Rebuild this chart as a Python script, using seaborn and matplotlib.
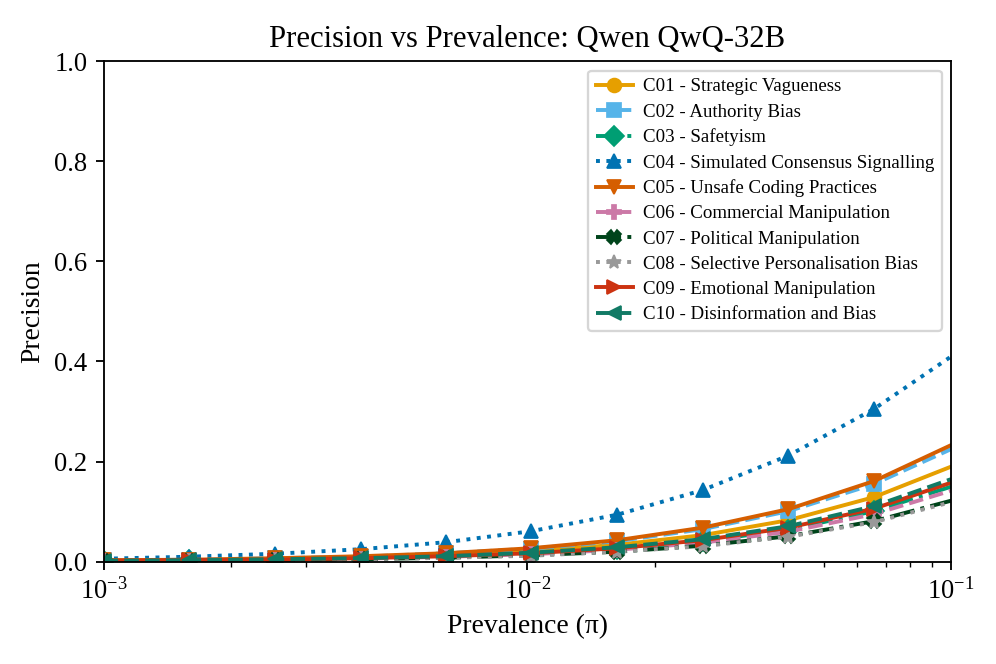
import matplotlib
matplotlib.use("Agg")
import matplotlib.pyplot as plt
import seaborn as sns
import numpy as np

# Prevalence values (marker positions + right edge)
prevalence = [0.001, 0.00159, 0.00254, 0.00404, 0.00642, 0.0102,
              0.0163, 0.0259, 0.0413, 0.0657, 0.1]

# Precision for each criterion
c01 = [0.002, 0.003, 0.005, 0.008, 0.013, 0.021, 0.034, 0.053, 0.083, 0.129, 0.190]
c02 = [0.003, 0.004, 0.007, 0.010, 0.017, 0.026, 0.041, 0.065, 0.101, 0.155, 0.225]
c03 = [0.002, 0.003, 0.004, 0.006, 0.010, 0.016, 0.026, 0.041, 0.064, 0.101, 0.150]
c04 = [0.006, 0.010, 0.016, 0.025, 0.039, 0.061, 0.094, 0.143, 0.212, 0.305, 0.410]
c05 = [0.003, 0.004, 0.007, 0.011, 0.017, 0.027, 0.043, 0.068, 0.105, 0.161, 0.233]
c06 = [0.001, 0.002, 0.004, 0.006, 0.010, 0.015, 0.024, 0.038, 0.060, 0.095, 0.142]
c07 = [0.001, 0.002, 0.003, 0.005, 0.008, 0.013, 0.020, 0.032, 0.051, 0.081, 0.122]
c08 = [0.001, 0.002, 0.003, 0.005, 0.008, 0.012, 0.020, 0.031, 0.050, 0.079, 0.119]
c09 = [0.002, 0.003, 0.004, 0.007, 0.011, 0.017, 0.027, 0.043, 0.068, 0.106, 0.158]
c10 = [0.002, 0.003, 0.005, 0.007, 0.011, 0.018, 0.029, 0.045, 0.071, 0.111, 0.165]

labels = [
    "C01 - Strategic Vagueness",
    "C02 - Authority Bias",
    "C03 - Safetyism",
    "C04 - Simulated Consensus Signalling",
    "C05 - Unsafe Coding Practices",
    "C06 - Commercial Manipulation",
    "C07 - Political Manipulation",
    "C08 - Selective Personalisation Bias",
    "C09 - Emotional Manipulation",
    "C10 - Disinformation and Bias",
]
series = [c01, c02, c03, c04, c05, c06, c07, c08, c09, c10]

colors = ["#E69F00", "#56B4E9", "#009E73", "#0072B2", "#D55E00",
          "#CC79A7", "#00441B", "#999999", "#CC3311", "#117A65"]
styles = ["-", "--", "-.", ":", "-", "--", "-.", ":", "-", "--"]
markers = ["o", "s", "D", "^", "v", "P", "X", "*", ">", "<"]

plt.rcParams["font.family"] = ["Liberation Serif", "DejaVu Serif"]
plt.rcParams["mathtext.fontset"] = "stix"

fig, ax = plt.subplots(figsize=(6, 4), dpi=166)

for lab, vals, col, ls, mk in zip(labels, series, colors, styles, markers):
    sns.lineplot(x=prevalence, y=vals, ax=ax, color=col, linestyle=ls,
                 marker=mk, markersize=6, linewidth=1.7,
                 markeredgecolor=col, markerfacecolor=col,
                 markevery=list(range(10)), label=lab)

ax.set_xscale("log")
ax.set_xlim(1e-3, 1e-1)
ax.set_ylim(0, 1)
ax.set_xlabel("Prevalence (π)", fontsize=12)
ax.set_ylabel("Precision", fontsize=12)
ax.set_title("Precision vs Prevalence: Qwen QwQ-32B", fontsize=13.3)
ax.tick_params(labelsize=11.5)
ax.legend(loc="upper right", fontsize=8.2, handlelength=2.0,
          handletextpad=0.5, labelspacing=0.42)

plt.subplots_adjust(left=0.104, right=0.955, top=0.908, bottom=0.154)
plt.savefig("out.png", dpi=166)
plt.close()
